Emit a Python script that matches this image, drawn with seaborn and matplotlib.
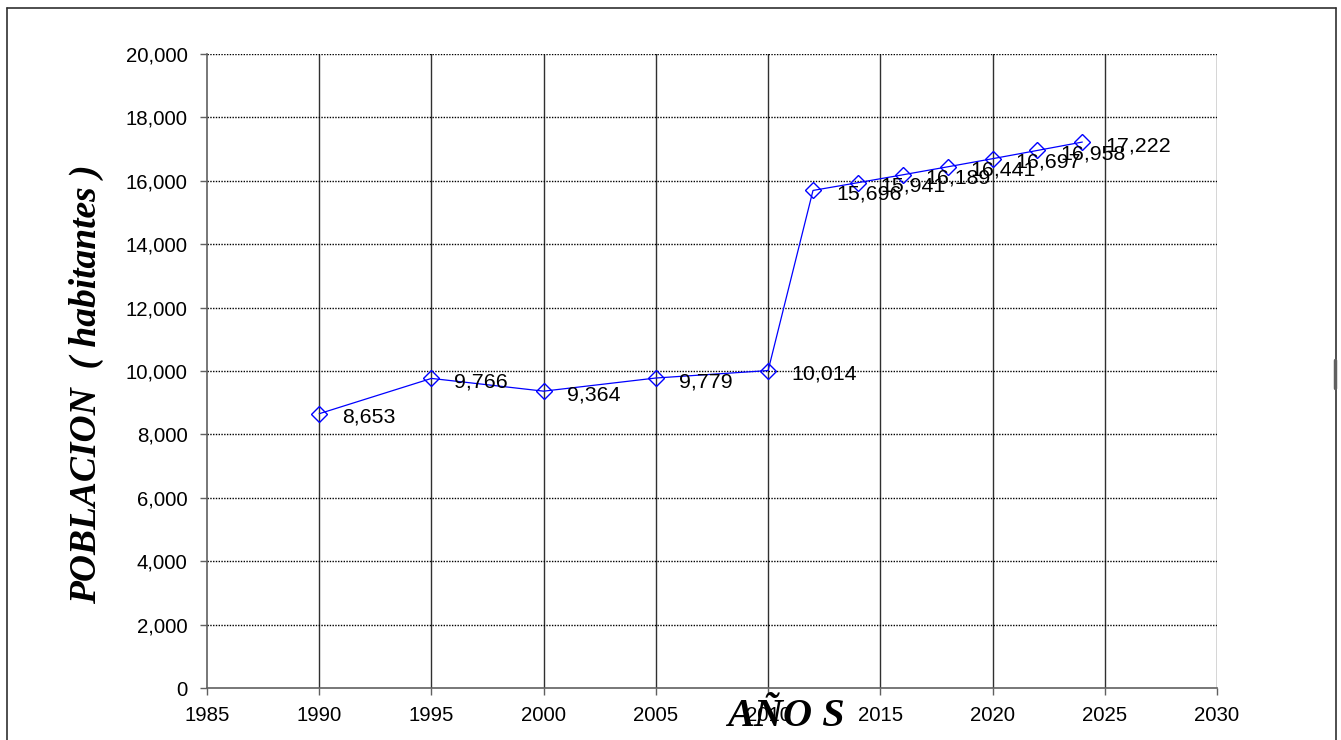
import matplotlib
matplotlib.use("Agg")
import matplotlib.pyplot as plt
import seaborn as sns
import pandas as pd
from matplotlib.lines import Line2D
from matplotlib.ticker import FuncFormatter

years = [1990, 1995, 2000, 2005, 2010, 2012, 2014, 2016, 2018, 2020, 2022, 2024]
population = [8653, 9766, 9364, 9779, 10014, 15696, 15941, 16189, 16441, 16697, 16958, 17222]
x_ticks = [1985, 1990, 1995, 2000, 2005, 2010, 2015, 2020, 2025, 2030]
y_ticks = [0, 2000, 4000, 6000, 8000, 10000, 12000, 14000, 16000, 18000, 20000]
x_label = "AÑO S"
y_label = "POBLACION  ( habitantes )"

sns.set_style("white")
plt.rcParams['font.family'] = ['Liberation Sans', 'DejaVu Sans']

df = pd.DataFrame({"year": years, "pop": population})

fig = plt.figure(figsize=(13.41, 7.40), dpi=100)
ax = fig.add_axes([207/1341, 52/740, (1217-207)/1341, (688-54)/740])

sns.lineplot(data=df, x="year", y="pop", ax=ax, color="#0000FF", linewidth=0.9,
             marker="D", markersize=8.5, markerfacecolor="none",
             markeredgecolor="#0000FF", markeredgewidth=1.0, zorder=5)

for xv, yv in zip(years, population):
    ax.annotate(f"{yv:,}", (xv, yv), xytext=(16.5, -6.5), textcoords="offset points",
                ha="left", va="baseline", fontsize=15.4, color="black", zorder=6)

ax.set_xlim(1985, 2030)
ax.set_ylim(0, 20000)
ax.set_xticks(x_ticks)
ax.set_yticks(y_ticks)
ax.yaxis.set_major_formatter(FuncFormatter(lambda v, p: f"{int(v):,}"))
ax.tick_params(axis="both", labelsize=14.7, direction="out", length=5, width=1,
               color="#606060", labelcolor="black")
ax.tick_params(axis="y", pad=9, left=True)
ax.tick_params(axis="x", pad=8, bottom=True)

for v in x_ticks[1:]:
    ax.axvline(v, color="#303030", linewidth=1.0, zorder=1)
for v in y_ticks[1:]:
    ax.axhline(v, color="black", linewidth=1.0, linestyle=(0, (1, 1)), zorder=1)

for side in ["top", "right"]:
    ax.spines[side].set_visible(False)
for side in ["left", "bottom"]:
    ax.spines[side].set_color("#606060")
    ax.spines[side].set_linewidth(1.2)

ax.set_xlabel("")
ax.set_ylabel("")
fig.text(86/1341, 1 - 384/740, y_label, rotation=90, ha="center", va="center",
         fontsize=27, fontweight="bold", fontstyle="italic", family="Liberation Serif",
         color="black")
fig.text(786/1341, 1 - 716/740, x_label, ha="center", va="center",
         fontsize=29, fontweight="bold", fontstyle="italic", family="Liberation Serif",
         color="black", zorder=10)

# figure border
bx0, bx1, by_top = 7/1341, 1335.5/1341, 1 - 8/740
fig.add_artist(Line2D([bx0, bx0], [-0.05, by_top], transform=fig.transFigure, color="#303030", lw=1.2))
fig.add_artist(Line2D([bx0, bx1], [by_top, by_top], transform=fig.transFigure, color="#303030", lw=1.2))
fig.add_artist(Line2D([bx1, bx1], [-0.05, by_top], transform=fig.transFigure, color="#303030", lw=1.2))
fig.add_artist(Line2D([bx1 - 0.5/1341, bx1 - 0.5/1341], [1 - 388/740, 1 - 360/740],
                      transform=fig.transFigure, color="#606060", lw=2.5))

fig.savefig("out.png", dpi=100)
